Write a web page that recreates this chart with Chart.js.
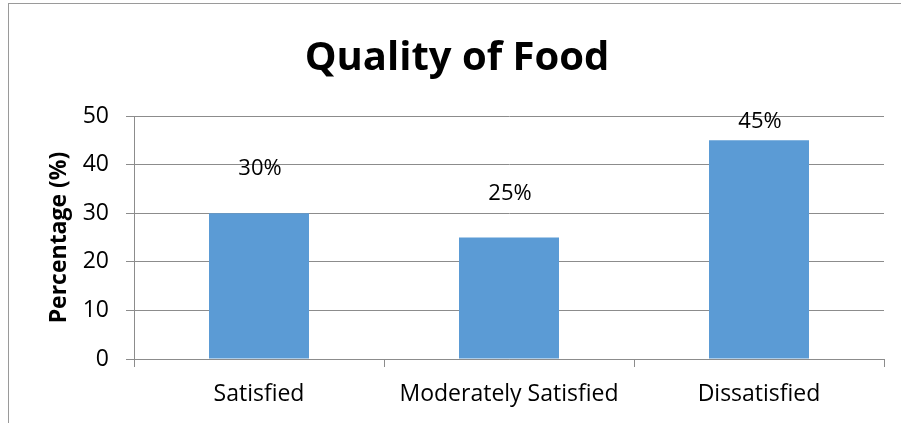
<!DOCTYPE html>
<html>
<head>
<meta charset="utf-8">
<script src="https://cdn.jsdelivr.net/npm/chart.js@4"></script>
<style>
  html, body { margin: 0; padding: 0; background: #fff; }
  #wrap { width: 901px; height: 423px; }
</style>
</head>
<body>
<div id="wrap"><canvas id="myChart" width="901" height="423"></canvas></div>
<script>
const categories = ["Satisfied", "Moderately Satisfied", "Dissatisfied"]
const percentages = [30, 25, 45]
const yTicks = [0, 10, 20, 30, 40, 50]

const FONT = "'Open Sans', 'Liberation Sans', sans-serif"
const GRID = "#8c8c8c"

// frame around the chart area, cut off by the window on right and bottom
const framePlugin = {
   id: "frame",
   beforeDraw(chart) {
      const ctx = chart.ctx
      ctx.save()
      ctx.fillStyle = "#fff"
      ctx.fillRect(0, 0, chart.width, chart.height)
      ctx.strokeStyle = "#9a9a9a"
      ctx.lineWidth = 1
      ctx.strokeRect(8.5, 3.5, chart.width + 20, chart.height + 20)
      ctx.restore()
   }
}

// value labels above each bar, kept inside the plot top like Excel did
const labelPlugin = {
   id: "valueLabels",
   afterDatasetsDraw(chart) {
      const ctx = chart.ctx
      const meta = chart.getDatasetMeta(0)
      const top = chart.chartArea.top
      ctx.save()
      ctx.font = "22px " + FONT
      ctx.fillStyle = "#000"
      ctx.textAlign = "center"
      ctx.textBaseline = "middle"
      meta.data.forEach((bar, i) => {
         const y = Math.max(bar.y - 44, top + 6)
         ctx.fillText(percentages[i] + "%", bar.x + 1, y)
      })
      ctx.restore()
   }
}

const config = {
   type: "bar",
   data: {
      labels: categories,
      datasets: [{
         data: percentages,
         backgroundColor: "#5b9bd5",
         borderWidth: 0,
         categoryPercentage: 1,
         barPercentage: 0.4
      }]
   },
   options: {
      responsive: false,
      animation: false,
      layout: { padding: { left: 30, right: 17, top: 0, bottom: 0 } },
      plugins: {
         legend: { display: false },
         tooltip: { enabled: false },
         title: {
            display: true,
            text: "Quality of Food",
            color: "#000",
            font: { family: FONT, size: 40, weight: "bold", lineHeight: 1.2 },
            padding: { top: 35, bottom: 33 }
         }
      },
      scales: {
         x: {
            grid: { drawOnChartArea: false, color: GRID, tickLength: 8, offset: true },
            border: { color: GRID },
            ticks: { color: "#000", font: { family: FONT, size: 23 }, padding: 14 },
            afterFit: s => { s.height = 64 }
         },
         y: {
            min: 0,
            max: 50,
            afterBuildTicks: s => { s.ticks = yTicks.map(v => ({ value: v })) },
            grid: { color: GRID, tickLength: 8 },
            border: { color: GRID },
            ticks: { color: "#000", font: { family: FONT, size: 23 }, padding: 17 },
            title: {
               display: true,
               text: "Percentage (%)",
               color: "#000",
               font: { family: FONT, size: 23, weight: "bold", lineHeight: 1.2 },
               padding: { top: 16, bottom: 0 }
            },
            afterFit: s => { s.width = 104 }
         }
      }
   },
   plugins: [framePlugin, labelPlugin]
}

new Chart(document.getElementById("myChart"), config)
</script>
</body>
</html>
